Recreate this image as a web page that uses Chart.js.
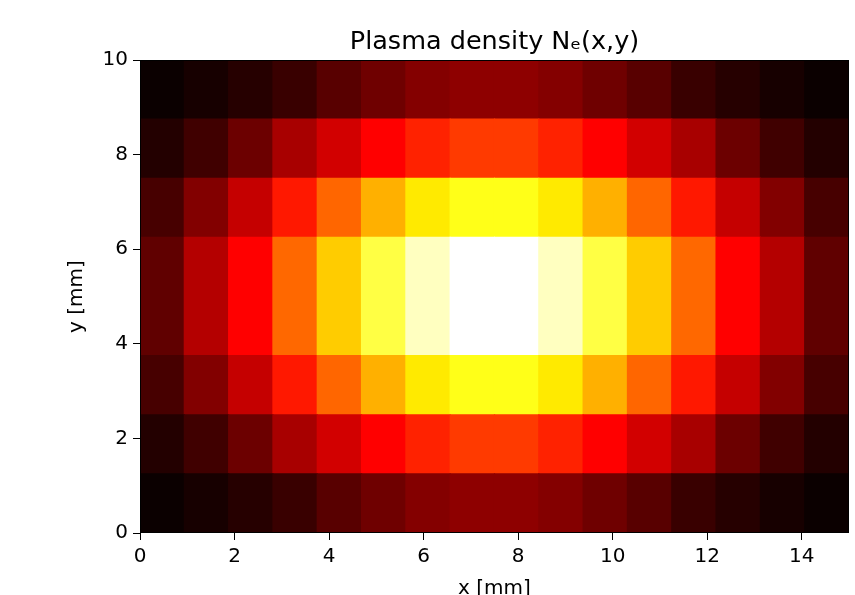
<!DOCTYPE html>
<html>
<head>
<meta charset="utf-8">
<title>Plasma density</title>
<script src="https://cdn.jsdelivr.net/npm/chart.js@4.4.1/dist/chart.umd.min.js"></script>
<style>
  html, body { margin: 0; padding: 0; background: #fff; }
  #wrap { width: 855px; height: 595px; }
</style>
</head>
<body>
<div id="wrap"><canvas id="densityChart"></canvas></div>
<script>
// centres of the 16 cells along x [mm]
var xCells = [0.469, 1.406, 2.344, 3.281, 4.219, 5.156, 6.094, 7.031,
              7.969, 8.906, 9.844, 10.781, 11.719, 12.656, 13.594, 14.531];
// row bands along y [mm], bottom row first
var yRows = [[0, 1.25], [1.25, 2.5], [2.5, 3.75], [3.75, 5],
             [5, 6.25], [6.25, 7.5], [7.5, 8.75], [8.75, 10]];

// normalised density, bottom row first
var row0 = [0.000, 0.019, 0.041, 0.069, 0.116, 0.150, 0.181, 0.196, 0.196, 0.181, 0.150, 0.116, 0.069, 0.041, 0.019, 0.000];
var row1 = [0.037, 0.080, 0.146, 0.235, 0.298, 0.365, 0.416, 0.452, 0.452, 0.416, 0.365, 0.298, 0.235, 0.146, 0.080, 0.037];
var row2 = [0.090, 0.178, 0.278, 0.401, 0.517, 0.628, 0.715, 0.770, 0.770, 0.715, 0.628, 0.517, 0.401, 0.278, 0.178, 0.090];
var row3 = [0.128, 0.253, 0.365, 0.520, 0.670, 0.814, 0.937, 1.000, 1.000, 0.937, 0.814, 0.670, 0.520, 0.365, 0.253, 0.128];
var row4 = [0.128, 0.253, 0.365, 0.520, 0.670, 0.814, 0.937, 1.000, 1.000, 0.937, 0.814, 0.670, 0.520, 0.365, 0.253, 0.128];
var row5 = [0.090, 0.178, 0.278, 0.401, 0.517, 0.628, 0.715, 0.770, 0.770, 0.715, 0.628, 0.517, 0.401, 0.278, 0.178, 0.090];
var row6 = [0.037, 0.080, 0.146, 0.235, 0.298, 0.365, 0.416, 0.452, 0.452, 0.416, 0.365, 0.298, 0.235, 0.146, 0.080, 0.037];
var row7 = [0.000, 0.019, 0.041, 0.069, 0.116, 0.150, 0.181, 0.196, 0.196, 0.181, 0.150, 0.116, 0.069, 0.041, 0.019, 0.000];
var densityRows = [row0, row1, row2, row3, row4, row5, row6, row7];

var xTicks = [0, 2, 4, 6, 8, 10, 12, 14];
var yTicks = [0, 2, 4, 6, 8, 10];

var FONT = 'DejaVu Sans';

// matplotlib "hot" colormap
function hot(v) {
    var r = v < 0.365079 ? 0.0416 + (1 - 0.0416) * v / 0.365079 : 1;
    var g = v < 0.365079 ? 0 : (v < 0.746032 ? (v - 0.365079) / (0.746032 - 0.365079) : 1);
    var b = v < 0.746032 ? 0 : (v - 0.746032) / (1 - 0.746032);
    return 'rgb(' + Math.round(r * 255) + ',' + Math.round(g * 255) + ',' + Math.round(b * 255) + ')';
}

var allVals = [].concat.apply([], densityRows);
var vmin = Math.min.apply(null, allVals);
var vmax = Math.max.apply(null, allVals);

var datasets = densityRows.map(function (row, r) {
    return {
        label: 'row ' + r,
        data: row.map(function (v, c) { return { x: xCells[c], y: yRows[r] }; }),
        backgroundColor: row.map(function (v) { return hot((v - vmin) / (vmax - vmin)); }),
        borderWidth: 0,
        inflateAmount: 0.6,
        grouped: false,
        barPercentage: 1,
        categoryPercentage: 1
    };
});

// axes frame + title centred on the plot area
var framePlugin = {
    id: 'frame',
    afterDatasetsDraw: function (chart) {
        var a = chart.chartArea, ctx = chart.ctx;
        ctx.save();
        ctx.strokeStyle = '#000';
        ctx.lineWidth = 1;
        ctx.strokeRect(Math.round(a.left) + 0.5, Math.round(a.top) + 0.5,
            Math.round(a.right - a.left) - 1, Math.round(a.bottom - a.top) - 1);
        ctx.fillStyle = '#000';
        ctx.font = '25.5px "' + FONT + '"';
        ctx.textAlign = 'center';
        ctx.textBaseline = 'alphabetic';
        ctx.fillText('Plasma density Nₑ(x,y)', (a.left + a.right) / 2, 49);
        ctx.restore();
    }
};

new Chart(document.getElementById('densityChart'), {
    type: 'bar',
    data: { datasets: datasets },
    plugins: [framePlugin],
    options: {
        responsive: true,
        maintainAspectRatio: false,
        animation: false,
        layout: { padding: { left: 65, right: 6, top: 60, bottom: 0 } },
        plugins: { legend: { display: false }, tooltip: { enabled: false }, title: { display: false } },
        scales: {
            x: {
                type: 'linear',
                min: 0,
                max: 15,
                offset: false,
                afterBuildTicks: function (s) { s.ticks = xTicks.map(function (v) { return { value: v }; }); },
                afterFit: function (s) { s.height = 62; },
                grid: { display: true, drawOnChartArea: false, drawTicks: true, tickLength: 7, color: '#000', offset: false },
                border: { display: false },
                ticks: { color: '#000', padding: 5, maxRotation: 0, font: { family: FONT, size: 20 } },
                title: { display: true, text: 'x [mm]', color: '#000', padding: { top: 0, bottom: -4 }, font: { family: FONT, size: 20, lineHeight: 1 } }
            },
            y: {
                type: 'linear',
                min: 0,
                max: 10,
                afterBuildTicks: function (s) { s.ticks = yTicks.map(function (v) { return { value: v }; }); },
                afterFit: function (s) { s.width = 75; },
                grid: { display: true, drawOnChartArea: false, drawTicks: true, tickLength: 7, color: '#000' },
                border: { display: false },
                ticks: { color: '#000', padding: 5, font: { family: FONT, size: 20 } },
                title: { display: true, text: 'y [mm]', color: '#000', padding: 0, font: { family: FONT, size: 20, lineHeight: 1.2 } }
            }
        }
    }
});
</script>
</body>
</html>
